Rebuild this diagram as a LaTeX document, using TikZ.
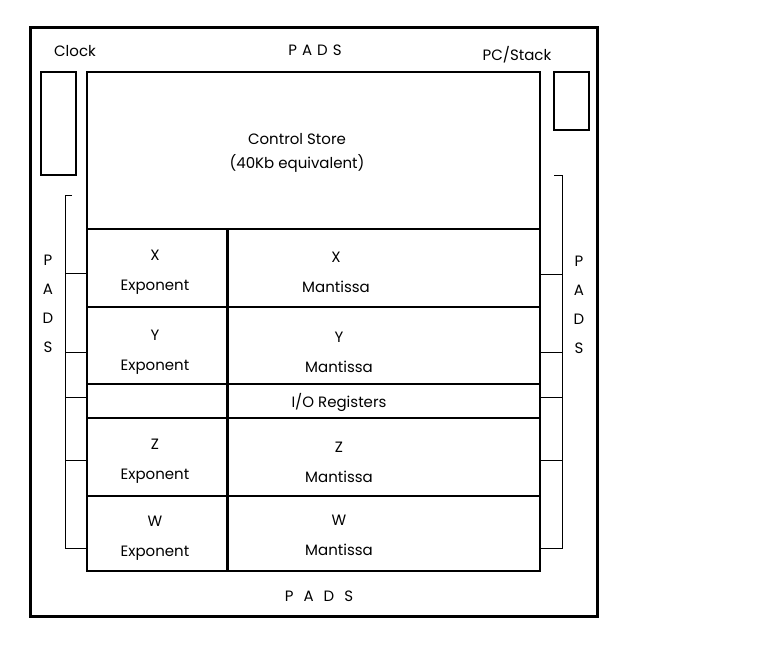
\documentclass[tikz,border=0pt]{standalone}
\usepackage{fontspec}
\setmainfont{Poppins}
\begin{document}
\begin{tikzpicture}[x=1pt,y=-1pt,
    chip/.style={line width=3pt},
    unit/.style={line width=2pt},
    padline/.style={line width=1pt},
    lbl/.style={inner sep=0pt,align=center,font=\fontsize{15}{30}\selectfont}]
    \useasboundingbox (0,0) rectangle (770,653);

    % die outline
    \draw[chip] (30,27) rectangle (597,616);

    \node[lbl] (padsN) at (315,50) {P\hspace{5pt}A\hspace{5pt}D\hspace{5pt}S};
    \node[lbl] (padsS) at (319,596) {P\hspace{10pt}A\hspace{10pt}D\hspace{10pt}S};
    \node[lbl,font=\fontsize{15}{29}\selectfont] (padsW) at (48,304) {P\\A\\D\\S};
    \node[lbl,font=\fontsize{15}{29}\selectfont] (padsE) at (579,305) {P\\A\\D\\S};

    \node[lbl] (clock) at (75,51) {Clock};
    \node[lbl] (pcstack) at (517,55) {PC/Stack};
    \draw[unit] (41,72) rectangle (76,175);
    \draw[unit] (554,72) rectangle (589,130);

    % main block
    \draw[unit] (87,72) rectangle (540,571);
    \node[lbl,font=\fontsize{15}{24}\selectfont] (ctrl) at (297,153) {Control Store\\(40Kb equivalent)};
    \foreach \y in {229,307,384,418,496}
        \draw[unit] (87,\y) -- (540,\y);
    \draw[chip] (227,229) -- (227,571);

    \node[lbl] (xexp) at (155,272) {X\\Exponent};
    \node[lbl] (yexp) at (155,352) {Y\\Exponent};
    \node[lbl] (zexp) at (155,461) {Z\\Exponent};
    \node[lbl] (wexp) at (155,538) {W\\Exponent};

    \node[lbl] (xman) at (336,272) {X\\Mantissa};
    \node[lbl] (yman) at (339,352) {Y\\Mantissa};
    \node[lbl] (io) at (339,402) {I/O Registers};
    \node[lbl] (zman) at (339,462) {Z\\Mantissa};
    \node[lbl] (wman) at (339,535) {W\\Mantissa};

    % pad bus, left
    \draw[padline] (72,195) -- (65,195) -- (65,548) -- (87,548);
    \foreach \y in {273,352,397,460}
        \draw[padline] (65,\y) -- (87,\y);

    % pad bus, right
    \draw[padline] (554,175) -- (562,175) -- (562,548) -- (540,548);
    \foreach \y in {274,352,397,460}
        \draw[padline] (562,\y) -- (540,\y);

\end{tikzpicture}
\end{document}
